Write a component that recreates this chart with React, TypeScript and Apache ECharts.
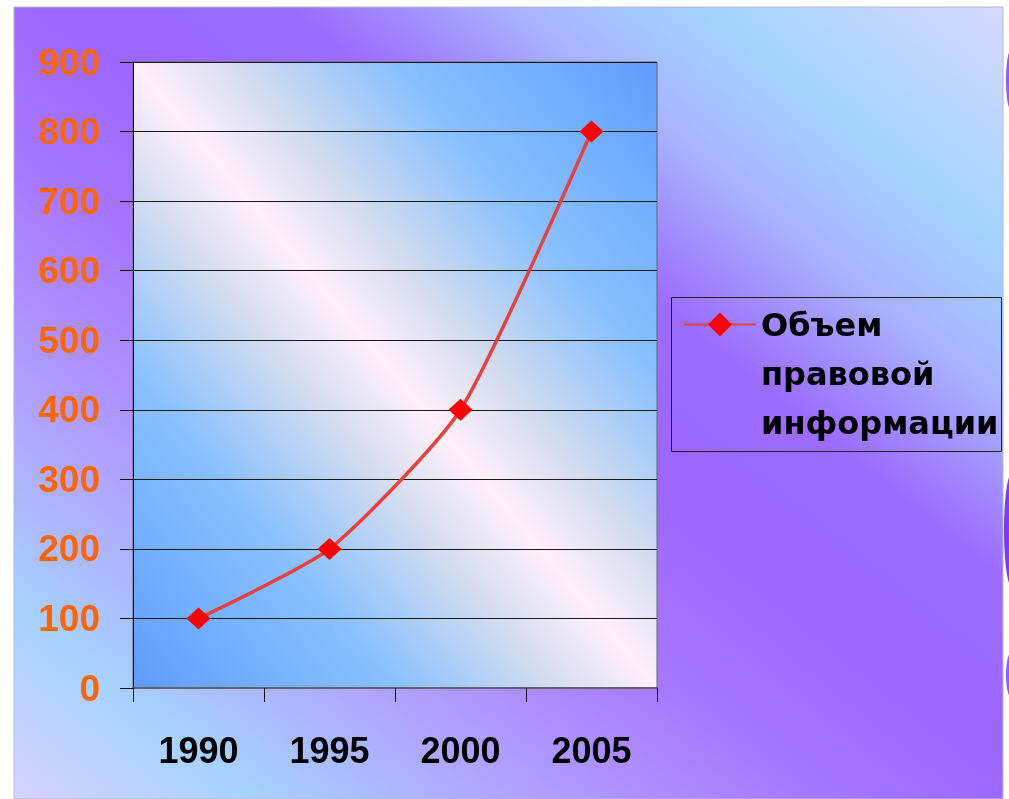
import React, { useEffect, useRef } from 'react';
import * as echarts from 'echarts';

const years = ['1990', '1995', '2000', '2005'];
const volume = [100, 200, 400, 800];
const seriesName = 'Объем правовой информации';
const legendLines = ['Объем', 'правовой', 'информации'];

export default function App() {
  const ref = useRef<HTMLDivElement>(null);
  useEffect(() => {
    const chart = echarts.init(ref.current as HTMLDivElement, null, { renderer: 'svg' });
    const LG = echarts.graphic.LinearGradient;
    const outerBg = new LG(0, 1, 1, 0, [
      { offset: 0, color: '#d6d2ff' },
      { offset: 0.12, color: '#a6d2ff' },
      { offset: 0.25, color: '#b0a4ff' },
      { offset: 0.4, color: '#a878ff' },
      { offset: 0.52, color: '#9c66ff' },
      { offset: 0.64, color: '#9c6cff' },
      { offset: 0.75, color: '#a8b2ff' },
      { offset: 0.85, color: '#a2d4ff' },
      { offset: 1, color: '#d6d8ff' },
    ]);
    const plotBg = new LG(0, 1, 1, 0, [
      { offset: 0, color: '#5e9cff' },
      { offset: 0.1, color: '#6eacff' },
      { offset: 0.25, color: '#88c0ff' },
      { offset: 0.4, color: '#d2dcf0' },
      { offset: 0.5, color: '#fff0fa' },
      { offset: 0.6, color: '#d2dcf0' },
      { offset: 0.75, color: '#88c0ff' },
      { offset: 0.9, color: '#6eacff' },
      { offset: 1, color: '#5e9cff' },
    ]);
    chart.setOption({
      animation: false,
      graphic: [
        { type: 'ellipse', z: -20, shape: { cx: 1011, cy: 80, rx: 5, ry: 30 }, style: { fill: '#8c5cff' } },
        { type: 'ellipse', z: -20, shape: { cx: 1012, cy: 530, rx: 8, ry: 57 }, style: { fill: '#7b3cf0' } },
        { type: 'ellipse', z: -20, shape: { cx: 1011, cy: 675, rx: 5, ry: 22 }, style: { fill: '#8c5cff' } },
        { type: 'rect', z: -10, shape: { x: 14, y: 7, width: 989, height: 792 }, style: { fill: outerBg, stroke: '#b8b8c8', lineWidth: 1 } },
        { type: 'rect', z: 5, shape: { x: 671.5, y: 297.5, width: 330, height: 154 }, style: { fill: 'none', stroke: '#222', lineWidth: 1 } },
      ],
      grid: {
        left: 133, top: 62, width: 524, height: 626,
        show: true, backgroundColor: plotBg, borderColor: '#666', borderWidth: 1,
      },
      legend: {
        left: 683, top: 202, padding: 0, orient: 'vertical', selectedMode: false,
        itemWidth: 72, itemHeight: 30,
        data: [seriesName],
        formatter: () => '\n\n' + legendLines.join('\n'),
        textStyle: { fontFamily: 'DejaVu Sans', fontWeight: 'bold', fontSize: 32, lineHeight: 49, color: '#000' },
      },
      xAxis: {
        type: 'category', data: years, boundaryGap: true,
        axisLine: { lineStyle: { color: '#606070', width: 2 } },
        axisTick: { show: true, length: 14, lineStyle: { color: '#111', width: 1 } },
        axisLabel: { margin: 44, color: '#000', fontFamily: 'Liberation Sans', fontWeight: 'bold', fontSize: 36 },
        splitLine: { show: false },
      },
      yAxis: {
        type: 'value', min: 0, max: 900, interval: 100,
        axisLine: { show: true, lineStyle: { color: '#111', width: 1 } },
        axisTick: { show: true, length: 13, lineStyle: { color: '#111', width: 1 } },
        axisLabel: { margin: 33, color: '#ff6600', fontFamily: 'Liberation Sans', fontWeight: 'bold', fontSize: 37 },
        splitLine: { show: true, lineStyle: { color: '#1a1a1a', width: 1 } },
      },
      series: [
        {
          name: seriesName, type: 'line', data: volume, smooth: 0.2,
          symbol: 'diamond', symbolSize: [24, 22],
          itemStyle: { color: '#ff0000' },
          lineStyle: { color: '#e8403c', width: 3.5 },
        },
      ],
    });
    return () => chart.dispose();
  }, []);
  return <div ref={ref} style={{ position: 'fixed', left: 0, top: 0, width: 1009, height: 799 }} />;
}
